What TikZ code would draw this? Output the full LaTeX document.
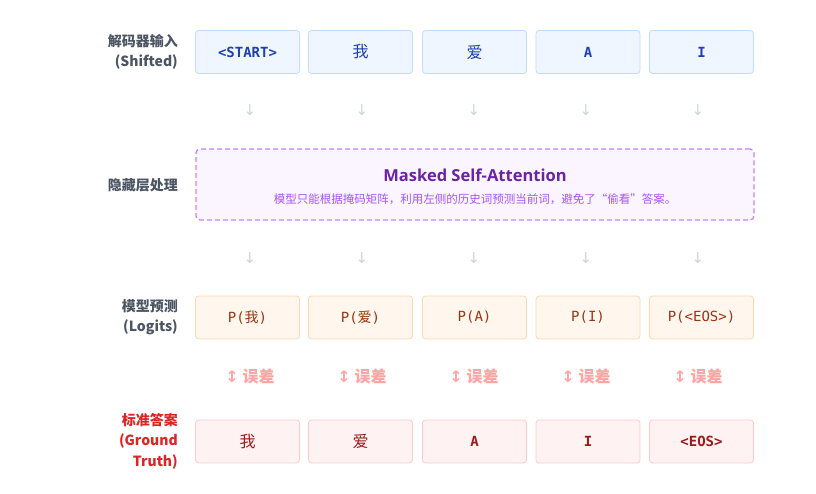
\documentclass[tikz,border=0pt]{standalone}
\usepackage{fontspec}
\setmainfont{Noto Sans CJK SC}
\newfontfamily\cjk{Noto Sans CJK SC}
\newfontfamily\titlefont{Open Sans}
\newfontfamily\symfont{DejaVu Sans}
\setmonofont{DejaVu Sans Mono}
\definecolor{inFill}{HTML}{EFF6FF}
\definecolor{inDraw}{HTML}{BFDBFE}
\definecolor{inText}{HTML}{1E40AF}
\definecolor{pFill}{HTML}{FFF7ED}
\definecolor{pDraw}{HTML}{FED7AA}
\definecolor{pText}{HTML}{9A3412}
\definecolor{gFill}{HTML}{FEF2F2}
\definecolor{gDraw}{HTML}{FECACA}
\definecolor{gText}{HTML}{991B1B}
\definecolor{mFill}{HTML}{FAF5FF}
\definecolor{mDraw}{HTML}{C084FC}
\definecolor{mTitle}{HTML}{6B21A8}
\definecolor{mSub}{HTML}{A855F7}
\definecolor{labGray}{HTML}{4B5563}
\definecolor{labRed}{HTML}{DC2626}
\definecolor{arrGray}{HTML}{CBD5E1}
\definecolor{errCol}{HTML}{FCA5A5}
\begin{document}
\begin{tikzpicture}[x=1pt,y=-1pt,
  tok/.style={rounded corners=3pt,line width=0.8pt,minimum width=104pt,minimum height=43pt,inner sep=0pt,anchor=center},
  inbox/.style={tok,fill=inFill,draw=inDraw,text=inText,font=\ttfamily\bfseries\fontsize{14}{16}\selectfont},
  pbox/.style={tok,fill=pFill,draw=pDraw,text=pText,font=\ttfamily\fontsize{14}{16}\selectfont},
  gbox/.style={tok,fill=gFill,draw=gDraw,text=gText,font=\ttfamily\bfseries\fontsize{14}{16}\selectfont},
  rowlab/.style={anchor=east,align=right,font=\bfseries\fontsize{14}{20.5}\selectfont,text=labGray,inner sep=0pt},
  darr/.style={text=arrGray,font=\symfont\fontsize{15}{16}\selectfont,inner sep=0pt},
  errlab/.style={text=errCol,font=\bfseries\fontsize{16}{18}\selectfont,inner sep=0pt}
]
\useasboundingbox (0,0) rectangle (816,494);
% row labels
\node[rowlab] (l1) at (178,52) {解码器输入\\(Shifted)};
\node[rowlab] (l2) at (178,185) {隐藏层处理};
\node[rowlab] (l3) at (178,317) {模型预测\\(Logits)};
\node[rowlab,text=labRed] (l4) at (178,441) {标准答案\\(Ground\\Truth)};
% input row
\node[inbox] (i1) at (247.5,52) {<START>};
\node[inbox] (i2) at (360.5,52) {{\cjk\mdseries\fontsize{16}{18}\selectfont 我}};
\node[inbox] (i3) at (474.5,52) {{\cjk\mdseries\fontsize{16}{18}\selectfont 爱}};
\node[inbox] (i4) at (588,52) {A};
\node[inbox] (i5) at (701.5,52) {I};
% masked box
\node[rounded corners=4pt,fill=mFill,draw=mDraw,dashed,dash pattern=on 5pt off 3pt,line width=1.3pt,minimum width=558pt,minimum height=71pt,inner sep=0pt] (mask) at (475,184.5) {};
\node[text=mTitle,font=\titlefont\bfseries\fontsize{16.5}{18}\selectfont] (mt) at (475,175) {Masked Self-Attention};
\node[text=mSub,font=\fontsize{11.5}{13}\selectfont] (ms) at (475,199) {模型只能根据掩码矩阵，利用左侧的历史词预测当前词，避免了“偷看”答案。};
% arrows
\foreach \x [count=\k] in {250,362,474,586,698}{
  \node[darr] (a\k) at (\x,110) {↓};
  \node[darr] (b\k) at (\x,258) {↓};
  \node[errlab] (e\k) at (\x,376) {{\symfont ↕} 误差};
}
% prediction row
\node[pbox] (p1) at (247.5,317.5) {P({\cjk 我})};
\node[pbox] (p2) at (360.5,317.5) {P({\cjk 爱})};
\node[pbox] (p3) at (474.5,317.5) {P(A)};
\node[pbox] (p4) at (588,317.5) {P(I)};
\node[pbox] (p5) at (701.5,317.5) {P(<EOS>)};
% ground truth row
\node[gbox] (g1) at (247.5,441.5) {{\cjk\mdseries\fontsize{16}{18}\selectfont 我}};
\node[gbox] (g2) at (360.5,441.5) {{\cjk\mdseries\fontsize{16}{18}\selectfont 爱}};
\node[gbox] (g3) at (474.5,441.5) {A};
\node[gbox] (g4) at (588,441.5) {I};
\node[gbox] (g5) at (701.5,441.5) {<EOS>};
\end{tikzpicture}
\end{document}
